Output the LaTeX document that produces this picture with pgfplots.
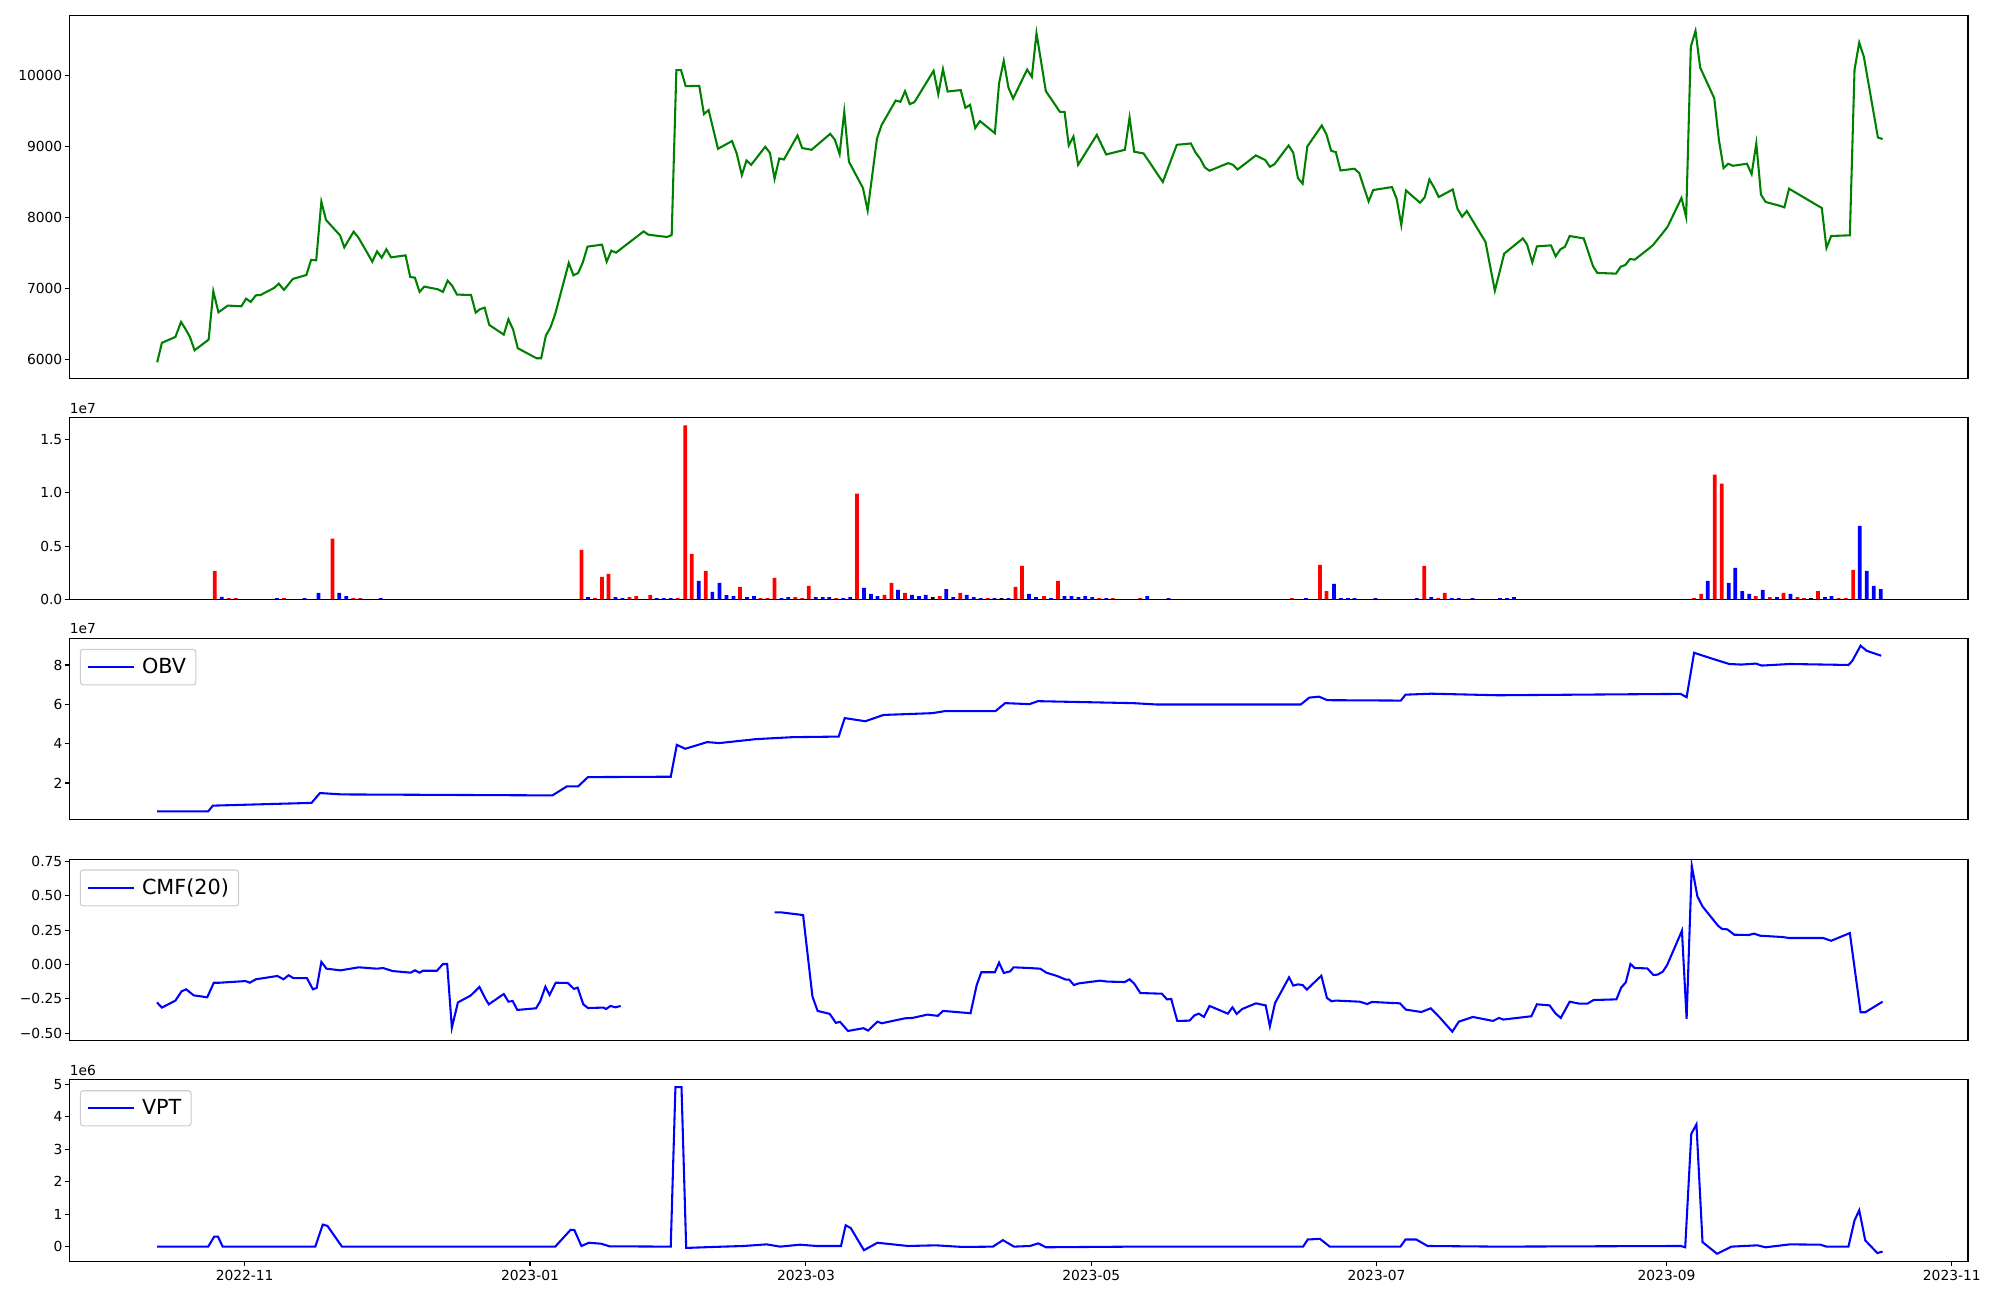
\documentclass[border=0pt]{standalone}
\usepackage{pgfplots}
\pgfplotsset{compat=1.18}
\usepackage{fontspec}
\setmainfont{DejaVu Sans}
\definecolor{mplgreen}{RGB}{0,128,0}
\definecolor{legedge}{RGB}{204,204,204}
\pgfplotsset{
  base/.style={
    scale only axis, width=1366.9bp,
    xmin=-37.45, xmax=368.45,
    scaled ticks=false,
    axis line style={line width=0.8pt},
    tick style={line width=0.8pt, black},
    major tick length=3.5pt, tick align=outside,
    ytick pos=left, xtick pos=bottom,
    tick label style={font=\fontsize{10}{12}\selectfont},
    yticklabel style={inner sep=1.5pt},
    xticklabel style={inner sep=1.5pt, yshift=-1pt},
  },
  noxt/.style={xtick=\empty},
  leg/.style={
    legend style={at={(rel axis cs:0,1)}, anchor=north west, xshift=7.5pt, yshift=-7.5pt,
      draw=legedge, line width=0.8pt, rounded corners=2pt, fill=white, fill opacity=0.8, text opacity=1,
      font=\fontsize{15}{17}\selectfont, inner xsep=5pt, inner ysep=4.5pt, cells={anchor=west}},
    legend image code/.code={\draw[##1, line width=1.5pt] (0pt,0pt) -- (33pt,0pt); \path (36pt,0pt);},
  },
}
\begin{document}
\begin{tikzpicture}
\useasboundingbox (0,0) rectangle (1440bp,-936bp);
% ---------------- price
\begin{axis}[base, noxt, at={(50.04bp,-11.16bp)}, anchor=north west, height=261.36bp,
  ymin=5727, ymax=10850, ytick={6000,7000,8000,9000,10000},
  yticklabels={6000,7000,8000,9000,10000}]
\addplot[mplgreen, line width=1.5pt] coordinates {
(-18.7,5956) (-17.7,6230) (-14.8,6314) (-13.6,6526) (-12.7,6431) (-11.7,6314) (-10.7,6125) (-7.7,6276) (-6.7,6957) (-5.6,6661) (-3.6,6756) (-0.7,6746) (0.3,6854) (1.3,6808) (2.4,6901) (3.4,6906) (6.3,7005) (7.3,7066) (8.4,6977) (10.3,7132) (13.2,7188) (14.2,7400) (15.3,7395) (16.4,8222) (17.4,7964) (20.4,7747) (21.3,7578) (23.3,7799) (24.3,7719) (27.3,7376) (28.3,7521) (29.3,7432) (30.3,7550) (31.3,7437) (34.4,7465) (35.4,7160) (36.4,7150) (37.4,6949) (38.4,7024) (41.3,6986) (42.4,6949) (43.4,7108) (44.4,7033) (45.4,6911) (48.4,6906) (49.4,6657) (50.3,6704) (51.3,6727) (52.3,6483) (55.4,6346) (56.4,6563) (57.4,6417) (58.4,6154) (62.4,6013) (63.4,6013) (64.4,6333) (65.4,6450) (66.4,6639) (69.3,7358) (70.3,7183) (71.3,7216) (72.3,7366) (73.3,7588) (76.4,7616) (77.4,7376) (78.4,7531) (79.4,7503)
(85.3,7803) (86.3,7757) (90.3,7724) (91.3,7752) (92.3,10078) (93.3,10078) (94.3,9853) (97.2,9857) (98.2,9458) (99.2,9515) (101.2,8969) (104.2,9078) (105.2,8903) (106.3,8598) (107.3,8804) (108.3,8743) (111.3,8997) (112.3,8913) (113.3,8546) (114.3,8832) (115.3,8818) (118.2,9157) (119.2,8979) (121.2,8955) (125.2,9180) (126.2,9096) (127.2,8894) (128.2,9491) (129.2,8786) (132.2,8415) (133.2,8099) (135.2,9114) (136.2,9307) (139.2,9650) (140.2,9632) (141.2,9782) (142.2,9599) (143.2,9627) (147.3,10069) (148.3,9740) (149.3,10093) (150.3,9777) (153.1,9797) (154.1,9547) (155.1,9589) (156.2,9261) (157.2,9360) (160.4,9190) (161.3,9895) (162.3,10210) (163.3,9833) (164.3,9678) (167.3,10087) (168.3,9984) (169.3,10600) (171.3,9782)
(174.3,9491) (175.3,9491) (176.2,9016) (177.2,9142) (178.2,8743) (182.2,9166) (184.2,8889) (188.2,8955) (189.2,9410) (190.2,8927) (192.2,8903) (196.3,8500) (199.3,9025) (202.3,9044) (203.3,8917) (204.3,8828) (205.3,8705) (206.3,8659) (210.3,8767) (211.3,8743) (212.3,8677) (216.2,8875) (218.2,8810) (219.2,8715) (220.2,8753) (223.2,9016) (224.2,8913) (225.2,8556) (226.2,8476) (227.2,9001) (230.3,9298) (231.3,9171) (232.3,8941) (233.3,8922) (234.3,8663) (237.3,8687) (238.3,8626) (240.3,8226) (241.3,8387) (245.3,8429) (246.3,8264) (247.3,7893) (248.3,8381) (251.3,8208) (252.3,8283) (253.3,8536) (254.3,8423) (255.3,8288) (258.3,8395) (259.3,8123) (260.3,8010) (261.3,8091) (265.3,7654) (267.3,6967) (269.3,7489) (273.3,7704)
(274.2,7616) (275.3,7366) (276.3,7592) (279.3,7606) (280.3,7451) (281.3,7549) (282.3,7587) (283.3,7738) (286.3,7704) (288.3,7310) (289.2,7217) (293.2,7207) (294.2,7305) (295.2,7329) (296.2,7414) (297.2,7404) (300.2,7559) (301.2,7616) (302.2,7700) (303.2,7781) (304.2,7865) (307.2,8274) (308.2,8006) (309.2,10411) (310.2,10633) (311.2,10115) (314.2,9684) (315.2,9096) (316.2,8697) (317.2,8758) (318.2,8729) (321.2,8758) (322.2,8612) (323.2,9045) (324.2,8321) (325.2,8218) (328.2,8165) (329.2,8142) (330.2,8405) (337.2,8133) (338.2,7569) (339.2,7738) (343.2,7748) (344.2,10083) (345.2,10468) (346.2,10266) (349.2,9128) (350.2,9106)
};
\end{axis}
% ---------------- volume
\begin{axis}[base, noxt, name=vol, at={(50.04bp,-300.74bp)}, anchor=north west, height=130.68bp,
  ymin=0, ymax=1.708, ytick={0,0.5,1,1.5}, yticklabels={0.0,0.5,1.0,1.5}]
\addplot[ybar, bar shift=0pt, bar width=0.8, fill=red, draw=none] coordinates {
(-6.4,0.266) (-3.4,0.011) (-1.9,0.011) (8.4,0.011) (18.8,0.569) (23.2,0.011) (24.7,0.011) (72.0,0.465) (74.9,0.011) (76.4,0.210) (77.8,0.238) (82.3,0.020) (83.7,0.030) (86.7,0.040) (92.6,0.011) (94.2,1.636) (95.6,0.427) (98.6,0.266) (105.9,0.115) (110.3,0.011) (111.8,0.011) (113.3,0.200) (117.7,0.020) (119.2,0.011) (120.6,0.125) (126.5,0.011) (130.9,0.994) (136.8,0.040) (138.3,0.153) (141.2,0.059) (148.6,0.030) (153.0,0.059) (158.9,0.011) (164.8,0.115) (166.2,0.314) (170.9,0.030) (173.9,0.172) (182.7,0.011) (185.6,0.011) (191.5,0.011) (223.9,0.011) (229.9,0.323) (231.3,0.077) (252.2,0.314) (255.2,0.011) (256.6,0.059) (309.9,0.011) (311.4,0.049) (314.3,1.173) (315.8,1.088) (323.1,0.030) (326.1,0.020) (329.0,0.059) (332.0,0.020) (333.4,0.011) (336.4,0.077) (340.8,0.011) (342.3,0.011) (343.9,0.276)
};
\addplot[ybar, bar shift=0pt, bar width=0.8, fill=blue, draw=none] coordinates {
(-4.9,0.021) (6.9,0.011) (12.8,0.011) (15.8,0.059) (20.2,0.059) (21.7,0.030) (29.1,0.011) (73.4,0.020) (79.3,0.020) (80.8,0.011) (88.1,0.011) (89.6,0.011) (91.1,0.011) (97.1,0.172) (100.0,0.068) (101.5,0.153) (103.0,0.039) (104.5,0.030) (107.4,0.020) (108.9,0.030) (114.8,0.011) (116.2,0.020) (122.1,0.020) (123.6,0.020) (125.0,0.020) (128.0,0.011) (129.5,0.020) (132.4,0.106) (133.9,0.049) (135.3,0.030) (139.7,0.087) (142.7,0.040) (144.2,0.030) (145.6,0.040) (150.0,0.096) (151.5,0.020) (154.4,0.040) (155.9,0.020) (157.4,0.011) (160.3,0.011) (163.3,0.011) (167.7,0.049) (169.2,0.020) (172.4,0.011) (175.3,0.030) (176.8,0.030) (178.3,0.020) (179.7,0.030) (181.2,0.020) (184.2,0.011) (193.0,0.030) (197.5,0.011) (226.9,0.011) (232.9,0.144) (234.4,0.011) (235.9,0.011) (237.3,0.011) (241.8,0.011) (250.6,0.011) (253.7,0.020) (258.1,0.011) (259.6,0.011) (262.5,0.011) (268.4,0.011) (269.9,0.011) (271.4,0.020) (312.8,0.172) (317.3,0.153) (318.7,0.295) (320.2,0.077) (321.7,0.049) (324.6,0.087) (327.6,0.020) (330.5,0.049) (337.9,0.020) (339.3,0.030) (345.3,0.691) (346.8,0.266) (348.3,0.125) (349.8,0.096)
};
\addplot[ybar, bar shift=0pt, bar width=0.8, fill=black, draw=none] coordinates {
(147.1,0.020) (161.8,0.011) (334.9,0.011)
};
\end{axis}
\node[anchor=south west, inner sep=0pt, font=\fontsize{10}{12}\selectfont] at ([yshift=3pt]vol.north west) {1e7};
% ---------------- OBV
\begin{axis}[base, noxt, leg, name=obv, at={(50.04bp,-459.65bp)}, anchor=north west, height=130.68bp,
  ymin=0.124, ymax=9.35, ytick={2,4,6,8}, yticklabels={2,4,6,8}]
\addplot[blue, line width=1.5pt] coordinates {
(-18.7,0.56) (-7.8,0.56) (-6.8,0.85) (14.3,0.99) (16.1,1.49) (20.8,1.42) (65.8,1.37) (68.9,1.83) (71.3,1.83) (73.4,2.30) (91.1,2.32) (92.4,3.94) (94.2,3.74) (98.9,4.08) (101.5,4.03) (109.3,4.23) (117.1,4.33) (127.0,4.36) (128.3,5.30) (132.7,5.14) (136.6,5.46) (147.0,5.55) (149.6,5.65) (160.5,5.65) (162.6,6.06) (167.8,6.01) (169.6,6.16) (189.9,6.06) (195.1,5.99) (225.8,5.99) (227.6,6.34) (229.7,6.39) (231.5,6.21) (247.2,6.19) (248.2,6.49) (253.7,6.54) (268.0,6.46) (307.0,6.53) (308.3,6.36) (309.9,8.62) (313.5,8.34) (317.4,8.05) (320.0,8.02) (323.1,8.07) (324.4,7.97) (330.4,8.05) (342.9,8.00) (343.7,8.20) (345.5,8.98) (346.8,8.72) (349.9,8.47)
};
\addlegendentry{OBV}
\end{axis}
\node[anchor=south west, inner sep=0pt, font=\fontsize{10}{12}\selectfont] at ([yshift=3pt]obv.north west) {1e7};
% ---------------- CMF
\begin{axis}[base, noxt, leg, at={(50.04bp,-618.55bp)}, anchor=north west, height=130.68bp,
  ymin=-0.553, ymax=0.767, ytick={-0.5,-0.25,0,0.25,0.5,0.75},
  yticklabels={−0.50,−0.25,0.00,0.25,0.50,0.75}]
\addplot[blue, line width=1.5pt] coordinates {
(-18.75,-0.275) (-17.7,-0.313) (-14.8,-0.262) (-13.5,-0.195) (-12.5,-0.180) (-10.9,-0.224) (-8.0,-0.238) (-6.6,-0.132) (-5.3,-0.132) (0.2,-0.120) (1.1,-0.132) (2.4,-0.107) (7.0,-0.083) (8.3,-0.107) (9.4,-0.078) (10.4,-0.098) (13.3,-0.098) (14.6,-0.180) (15.4,-0.170) (16.4,0.019) (17.5,-0.030) (20.5,-0.042) (24.4,-0.020) (28.3,-0.030) (29.6,-0.025) (31.6,-0.047) (35.5,-0.059) (36.4,-0.042) (37.4,-0.059) (38.1,-0.045) (41.1,-0.045) (42.4,0.004) (43.3,0.004) (44.3,-0.459) (45.6,-0.275) (48.3,-0.226) (50.2,-0.163) (51.5,-0.250) (52.2,-0.289) (55.4,-0.214) (56.4,-0.270) (57.3,-0.265) (58.3,-0.330) (62.3,-0.318) (63.2,-0.267) (64.3,-0.161) (65.2,-0.221) (66.5,-0.132) (69.1,-0.134) (70.4,-0.177) (71.2,-0.168) (72.4,-0.289) (73.4,-0.316) (76.7,-0.313) (77.3,-0.323) (78.2,-0.301) (79.3,-0.311) (80.4,-0.301)
};
\addlegendentry{CMF(20)}
\addplot[blue, line width=1.5pt, forget plot] coordinates {
(113.3,0.380) (114.6,0.380) (119.4,0.360) (121.4,-0.233) (122.5,-0.337) (125.1,-0.359) (126.4,-0.424) (127.3,-0.417) (129.0,-0.483) (130.6,-0.473) (132.3,-0.463) (133.3,-0.480) (135.3,-0.415) (136.2,-0.427) (139.5,-0.403) (141.2,-0.391) (142.8,-0.388) (146.0,-0.364) (148.2,-0.373) (149.3,-0.337) (155.2,-0.354) (156.5,-0.151) (157.5,-0.056) (160.4,-0.056) (161.3,0.014) (162.3,-0.061) (163.7,-0.049) (164.4,-0.020) (167.7,-0.025) (170.1,-0.030) (171.4,-0.059) (173.7,-0.083) (175.6,-0.110) (176.3,-0.110) (177.3,-0.149) (178.3,-0.137) (182.9,-0.117) (184.5,-0.124) (188.2,-0.127) (189.2,-0.107) (190.2,-0.139) (191.5,-0.207) (196.1,-0.212) (197.2,-0.253) (198.1,-0.250) (199.4,-0.410) (202.0,-0.408) (203.1,-0.369) (204.0,-0.357) (205.1,-0.381) (206.3,-0.301) (210.2,-0.357) (211.2,-0.311) (212.1,-0.359) (213.3,-0.323) (216.2,-0.282) (218.3,-0.297) (219.2,-0.449) (220.3,-0.280) (223.3,-0.093) (224.2,-0.153) (225.2,-0.144) (226.2,-0.149) (227.1,-0.182) (230.2,-0.081) (231.4,-0.243) (232.4,-0.267) (233.3,-0.262) (238.4,-0.270) (240.0,-0.287) (241.0,-0.272) (247.0,-0.282) (248.3,-0.328) (251.6,-0.345) (253.6,-0.318) (255.6,-0.388) (258.2,-0.488) (259.6,-0.415) (262.6,-0.381) (266.9,-0.410) (268.2,-0.388) (269.1,-0.400) (275.1,-0.376) (276.3,-0.289) (279.0,-0.297) (280.3,-0.357) (281.4,-0.388) (283.3,-0.270) (285.3,-0.284) (287.1,-0.284) (288.4,-0.258) (293.3,-0.253) (294.3,-0.168) (295.3,-0.129) (296.3,0.004) (297.2,-0.025) (299.9,-0.028) (301.2,-0.076) (302.1,-0.073) (303.2,-0.052) (304.1,-0.006) (307.3,0.246) (308.3,-0.395) (309.4,0.719) (310.6,0.496) (311.7,0.423) (315.0,0.283) (315.9,0.259) (317.0,0.256) (318.5,0.217) (321.6,0.215) (322.7,0.225) (324.0,0.210) (328.9,0.200) (330.2,0.193) (337.5,0.193) (339.2,0.173) (343.2,0.229) (345.5,-0.347) (346.5,-0.347) (350.2,-0.270)
};
\end{axis}
% ---------------- VPT
\begin{axis}[base, leg, name=vpt, at={(50.04bp,-777.46bp)}, anchor=north west, height=130.68bp,
  ymin=-0.453, ymax=5.145, ytick={0,1,2,3,4,5}, yticklabels={0,1,2,3,4,5},
  xtick={0,61,120,181,242,304,365},
  xticklabels={2022-11,2023-01,2023-03,2023-05,2023-07,2023-09,2023-11}]
\addplot[blue, line width=1.5pt] coordinates {
(-18.7,0) (-7.8,0) (-6.5,0.31) (-5.7,0.31) (-4.7,0) (15.1,0) (16.7,0.68) (17.7,0.64) (20.8,0) (66.4,0) (69.7,0.52) (70.5,0.51) (72.0,0.02) (73.6,0.12) (76.2,0.09) (78.0,0.01) (91.1,0) (92.1,4.92) (93.4,4.92) (94.4,-0.04) (100.2,-0.01) (106.7,0.02) (111.6,0.07) (114.5,0) (118.7,0.06) (122.3,0.02) (127.5,0.02) (128.5,0.66) (129.6,0.57) (132.4,-0.11) (135.3,0.12) (141.8,0.02) (147.8,0.04) (153.5,-0.01) (160.0,0) (162.1,0.20) (164.5,0) (167.9,0.02) (169.7,0.10) (171.3,-0.02) (190.0,0) (226.3,0) (227.3,0.22) (229.9,0.24) (232.0,0) (247.1,0) (248.2,0.22) (250.5,0.22) (252.9,0.02) (268.0,0) (307.0,0.02) (308.0,-0.02) (309.3,3.48) (310.4,3.77) (311.7,0.14) (314.8,-0.22) (317.9,0.0) (323.4,0.04) (325.2,-0.02) (330.4,0.07) (336.9,0.06) (338.2,0) (342.9,0) (344.2,0.81) (345.2,1.12) (346.5,0.19) (349.1,-0.20) (350.2,-0.15)
};
\addlegendentry{VPT}
\end{axis}
\node[anchor=south west, inner sep=0pt, font=\fontsize{10}{12}\selectfont] at ([yshift=3pt]vpt.north west) {1e6};
\end{tikzpicture}
\end{document}
